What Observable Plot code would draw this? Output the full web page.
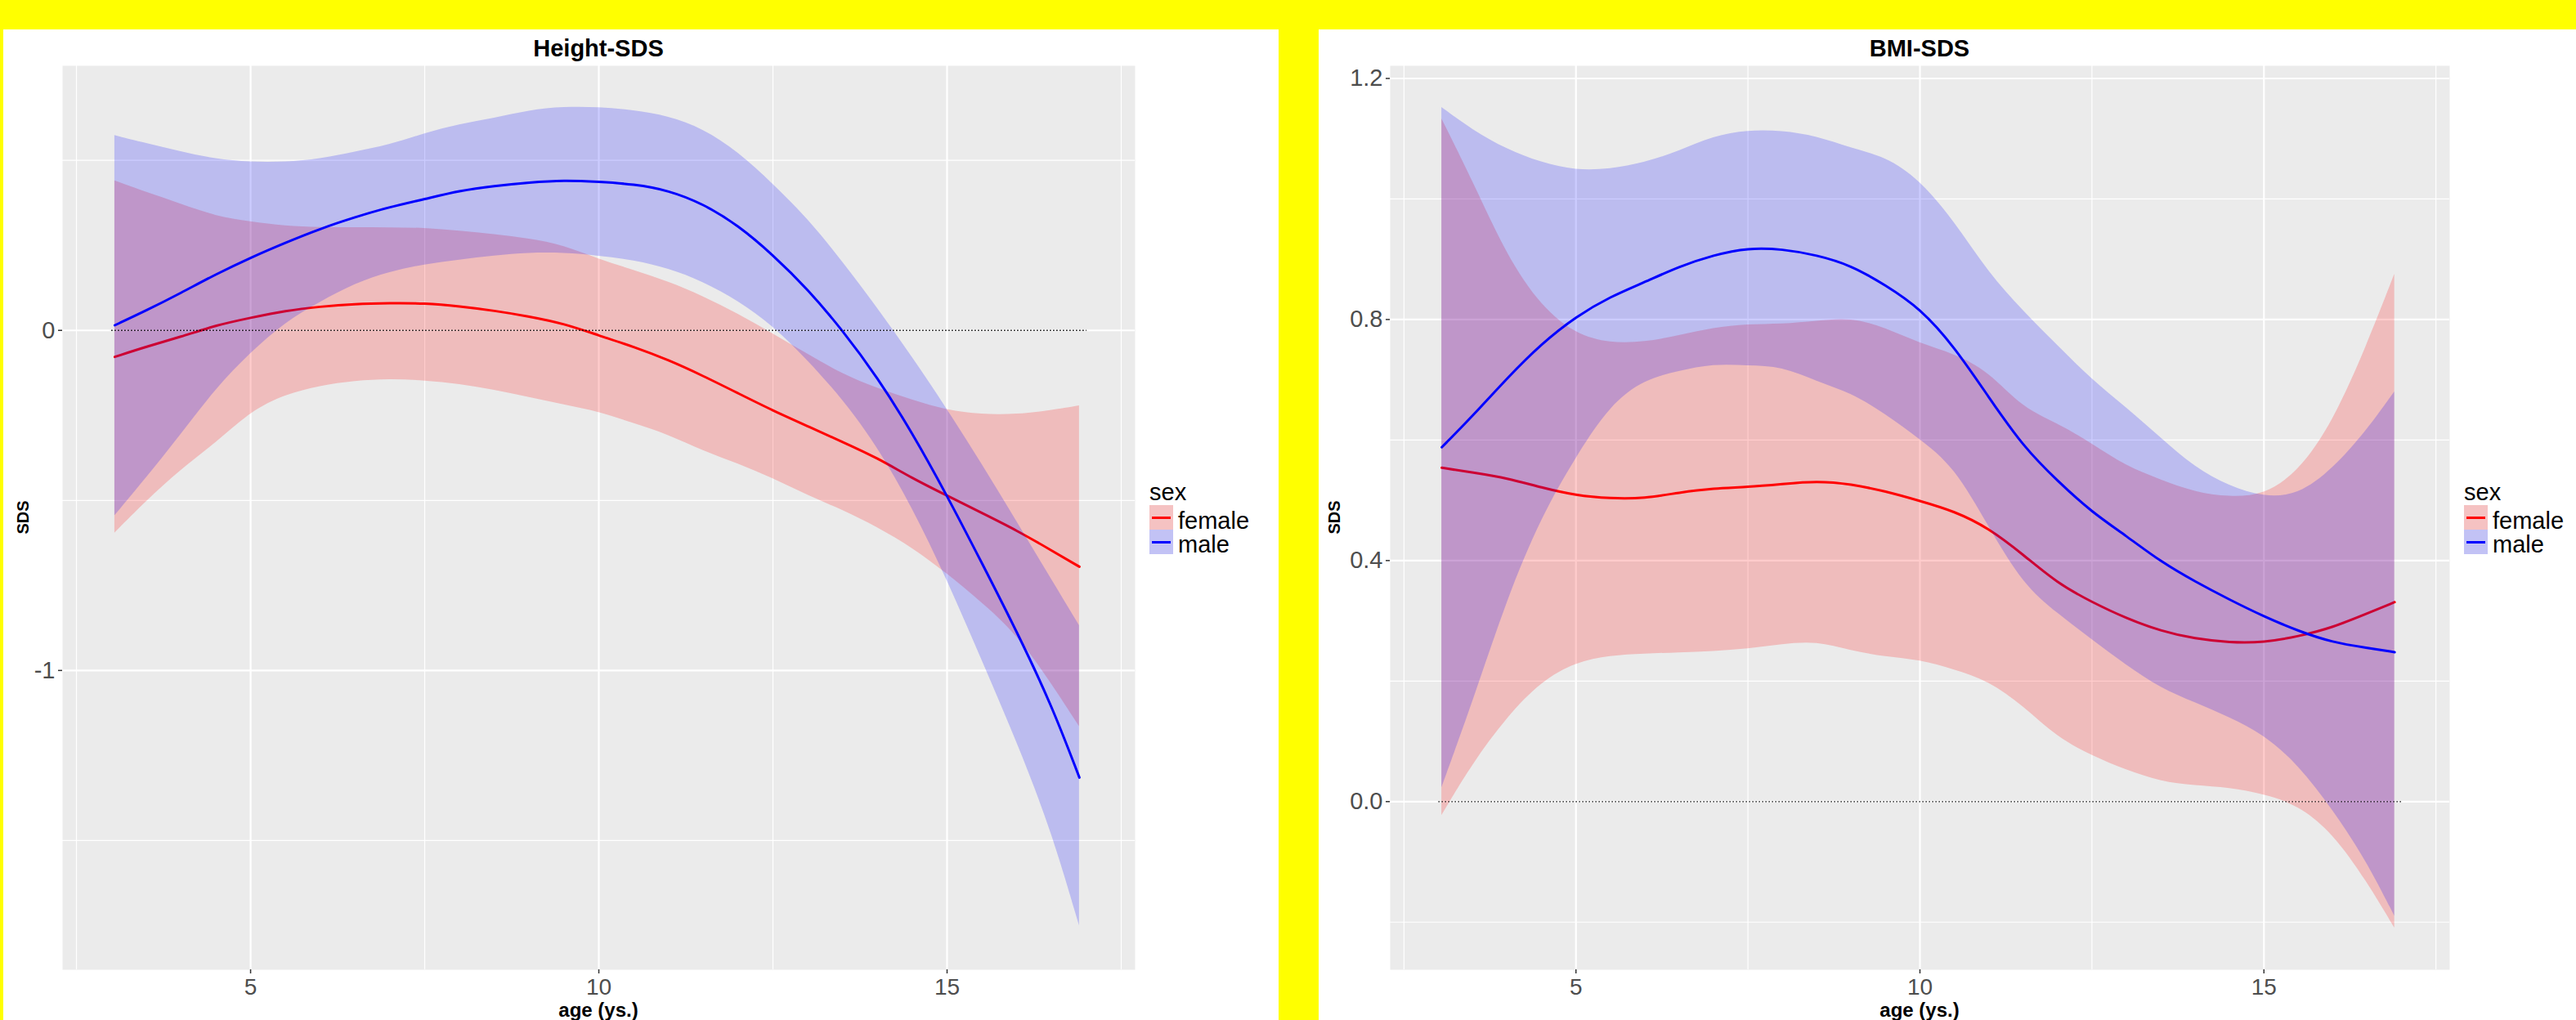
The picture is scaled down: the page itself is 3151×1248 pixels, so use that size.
<!DOCTYPE html>
<html>
<head>
<meta charset="utf-8">
<script src="https://cdn.jsdelivr.net/npm/d3@7"></script>
<script src="https://cdn.jsdelivr.net/npm/@observablehq/plot@0.6"></script>
<style>
html, body { margin: 0; padding: 0; }
body { width: 3151px; height: 1248px; background: #FFFF00; position: relative; overflow: hidden;
       font-family: "Liberation Sans", Arial, sans-serif; color: #000; }
.panel { position: absolute; top: 36px; height: 1212px; background: #FFFFFF; overflow: hidden; }
.panel svg { position: absolute; left: 0; top: 0; }
.t { position: absolute; white-space: nowrap; line-height: 1; }
.title { font-weight: bold; font-size: 29px; transform: translateX(-50%); }
.xlab { font-weight: bold; font-size: 24px; transform: translateX(-50%); }
.ylab { font-weight: bold; font-size: 20px; transform: translate(-50%, -50%) rotate(-90deg); }
.legtitle { font-size: 29px; }
.legtext { font-size: 29px; }
.key { position: absolute; width: 29px; height: 30px; }
.key .ln { position: absolute; left: 3px; right: 3px; top: 13.5px; height: 3px; }
</style>
</head>
<body>
<div id="left" class="panel" style="left:4px;width:1560px;"></div>
<div id="right" class="panel" style="left:1613px;width:1538px;"></div>
<script>
// ---- data ----
const ages = [3.05, 3.5, 4, 4.5, 5, 5.5, 6, 6.5, 7, 7.5, 8, 8.5, 9, 9.5, 10, 10.5, 11, 11.5, 12, 12.5, 13, 13.5, 14, 14.5, 15, 15.5, 16, 16.5, 16.9];

const heightFemaleFit   = [-0.078, -0.048, -0.019, 0.015, 0.037, 0.058, 0.070, 0.078, 0.080, 0.080, 0.071, 0.058, 0.041, 0.020, -0.015, -0.048, -0.087, -0.134, -0.185, -0.236, -0.282, -0.328, -0.375, -0.435, -0.486, -0.537, -0.588, -0.647, -0.695];
const heightFemaleUpper = [0.440, 0.406, 0.372, 0.335, 0.319, 0.306, 0.302, 0.302, 0.302, 0.301, 0.292, 0.282, 0.270, 0.250, 0.209, 0.177, 0.143, 0.100, 0.049, -0.010, -0.070, -0.129, -0.171, -0.205, -0.236, -0.248, -0.248, -0.236, -0.222];
const heightFemaleLower = [-0.596, -0.503, -0.409, -0.333, -0.239, -0.189, -0.163, -0.149, -0.143, -0.148, -0.158, -0.175, -0.197, -0.219, -0.239, -0.274, -0.307, -0.355, -0.392, -0.435, -0.486, -0.528, -0.579, -0.639, -0.715, -0.800, -0.893, -1.038, -1.165];
const heightMaleFit     = [0.015, 0.058, 0.110, 0.165, 0.214, 0.258, 0.299, 0.333, 0.363, 0.386, 0.411, 0.425, 0.435, 0.442, 0.437, 0.430, 0.412, 0.372, 0.309, 0.222, 0.121, 0.000, -0.138, -0.301, -0.486, -0.684, -0.885, -1.101, -1.315];
const heightMaleUpper   = [0.573, 0.550, 0.525, 0.503, 0.494, 0.494, 0.503, 0.525, 0.545, 0.579, 0.606, 0.623, 0.647, 0.657, 0.656, 0.647, 0.630, 0.593, 0.525, 0.431, 0.329, 0.202, 0.066, -0.078, -0.231, -0.392, -0.562, -0.732, -0.868];
const heightMaleLower   = [-0.545, -0.435, -0.307, -0.172, -0.066, 0.024, 0.083, 0.138, 0.172, 0.194, 0.207, 0.219, 0.228, 0.228, 0.219, 0.206, 0.182, 0.143, 0.087, 0.014, -0.088, -0.202, -0.341, -0.520, -0.732, -0.970, -1.208, -1.471, -1.751];

const bmiFemaleFit   = [0.554, 0.546, 0.537, 0.521, 0.508, 0.503, 0.503, 0.513, 0.520, 0.522, 0.527, 0.532, 0.527, 0.515, 0.499, 0.482, 0.454, 0.410, 0.362, 0.331, 0.304, 0.283, 0.270, 0.264, 0.264, 0.274, 0.289, 0.312, 0.331];
const bmiFemaleUpper = [1.133, 1.030, 0.905, 0.821, 0.775, 0.760, 0.762, 0.773, 0.786, 0.792, 0.792, 0.797, 0.803, 0.786, 0.760, 0.743, 0.714, 0.652, 0.628, 0.594, 0.556, 0.534, 0.513, 0.505, 0.508, 0.546, 0.628, 0.757, 0.875];
const bmiFemaleLower = [-0.023, 0.063, 0.140, 0.199, 0.231, 0.242, 0.245, 0.247, 0.249, 0.253, 0.261, 0.266, 0.250, 0.240, 0.235, 0.219, 0.200, 0.159, 0.106, 0.076, 0.052, 0.033, 0.026, 0.023, 0.012, -0.006, -0.052, -0.133, -0.210];
const bmiMaleFit     = [0.588, 0.640, 0.703, 0.760, 0.805, 0.838, 0.862, 0.888, 0.907, 0.919, 0.917, 0.907, 0.890, 0.857, 0.819, 0.755, 0.671, 0.589, 0.532, 0.480, 0.441, 0.398, 0.365, 0.335, 0.307, 0.283, 0.264, 0.255, 0.248];
const bmiMaleUpper   = [1.152, 1.114, 1.082, 1.060, 1.047, 1.049, 1.060, 1.079, 1.104, 1.114, 1.113, 1.104, 1.084, 1.070, 1.032, 0.963, 0.877, 0.814, 0.757, 0.700, 0.654, 0.604, 0.554, 0.523, 0.505, 0.508, 0.551, 0.616, 0.680];
const bmiMaleLower   = [0.023, 0.164, 0.336, 0.472, 0.571, 0.658, 0.700, 0.714, 0.726, 0.723, 0.722, 0.697, 0.678, 0.643, 0.601, 0.556, 0.456, 0.360, 0.312, 0.269, 0.226, 0.188, 0.164, 0.140, 0.111, 0.061, -0.013, -0.100, -0.190];

const refAges = [3, 17];          // dotted reference line at SDS = 0
const refValue = 0;

const xTicks = [5, 10, 15];
const xMinor = [2.5, 7.5, 12.5, 17.5];
const heightYTicks = [-1, 0];
const heightYMinor = [-1.5, -0.5, 0.5];
const bmiYTicks = [0, 0.4, 0.8, 1.2];
const bmiYMinor = [-0.2, 0.2, 0.6, 1.0];

const sexes = ["female", "male"];
const sexColors = ["#FF0000", "#0000FF"];
const keyFills = ["#F5C2C2", "#C2C2F5"];

// ---- chart ----
const FONT = "Liberation Sans, Arial, sans-serif";
const CURVE = "basis";
const rows = (fit, lo, hi) => ages.map((a, i) => ({age: a, fit: fit[i], lo: lo[i], hi: hi[i]}));

function makeChart(cfg) {
  const F = rows(cfg.fF, cfg.fL, cfg.fU);
  const M = rows(cfg.mF, cfg.mL, cfg.mU);
  const ref = refAges.map(a => ({age: a, v: refValue}));
  return Plot.plot({
    width: cfg.width, height: 1212,
    marginLeft: cfg.ml, marginRight: cfg.mr, marginTop: 44, marginBottom: 62,
    x: {domain: [2.3, 17.7]},
    y: {domain: cfg.yDomain},
    style: {background: "transparent", fontFamily: FONT, overflow: "visible"},
    marks: [
      Plot.frame({fill: "#EBEBEB", stroke: null}),
      Plot.ruleX(xMinor, {stroke: "#FFFFFF", strokeWidth: 1.2}),
      Plot.ruleY(cfg.yMinor, {stroke: "#FFFFFF", strokeWidth: 1.2}),
      Plot.ruleX(xTicks, {stroke: "#FFFFFF", strokeWidth: 2.2}),
      Plot.ruleY(cfg.yTicks, {stroke: "#FFFFFF", strokeWidth: 2.2}),
      Plot.area(F, {x1: "age", y1: "lo", y2: "hi", fill: sexColors[0], fillOpacity: 0.2, curve: CURVE}),
      Plot.line(F, {x: "age", y: "fit", stroke: sexColors[0], strokeWidth: 3, curve: CURVE}),
      Plot.area(M, {x1: "age", y1: "lo", y2: "hi", fill: sexColors[1], fillOpacity: 0.2, curve: CURVE}),
      Plot.line(M, {x: "age", y: "fit", stroke: sexColors[1], strokeWidth: 3, curve: CURVE}),
      Plot.line(ref, {x: "age", y: "v", stroke: "#000000", strokeWidth: 1.3, strokeDasharray: "1.5,2.5", strokeLinecap: "butt"}),
      Plot.axisX(xTicks, {tickSize: 5, tickPadding: 6, fontSize: 28, fill: "#4D4D4D", stroke: "#333333", strokeWidth: 1.5, label: null}),
      Plot.axisY(cfg.yTicks, {tickSize: 5, tickPadding: 4, fontSize: 29, fill: "#4D4D4D", stroke: "#333333", strokeWidth: 1.5, label: null, tickFormat: cfg.fmt})
    ]
  });
}

function addText(panel, cls, text, left, top) {
  const d = document.createElement("div");
  d.className = "t " + cls;
  d.textContent = text;
  d.style.left = left + "px";
  d.style.top = top + "px";
  panel.appendChild(d);
}

function addLegend(panel, x) {
  addText(panel, "legtitle", "sex", x, 576 - 24.5);
  sexes.forEach((s, i) => {
    const k = document.createElement("div");
    k.className = "key";
    k.style.left = x + "px";
    k.style.top = (582 + 30 * i) + "px";
    k.style.background = keyFills[i];
    const ln = document.createElement("div");
    ln.className = "ln";
    ln.style.background = sexColors[i];
    k.appendChild(ln);
    panel.appendChild(k);
    addText(panel, "legtext", s, x + 35, 611 + 29 * i - 24.5);
  });
}

function build(panelId, cfg) {
  const panel = document.getElementById(panelId);
  panel.appendChild(makeChart(cfg));
  const cx = cfg.ml + (cfg.width - cfg.ml - cfg.mr) / 2;
  addText(panel, "title", cfg.title, cx, 33 - 24.5);
  addText(panel, "xlab", "age (ys.)", cx, 1188);
  addText(panel, "ylab", "SDS", cfg.ylabX, 597);
  addLegend(panel, cfg.width - cfg.mr + 18);
}

build("left", {
  title: "Height-SDS", width: 1560, ml: 72, mr: 176, yDomain: [-1.88, 0.778],
  yTicks: heightYTicks, yMinor: heightYMinor, fmt: d => String(d), ylabX: 23.5,
  fF: heightFemaleFit, fL: heightFemaleLower, fU: heightFemaleUpper,
  mF: heightMaleFit, mL: heightMaleLower, mU: heightMaleUpper
});
build("right", {
  title: "BMI-SDS", width: 1538, ml: 87, mr: 155, yDomain: [-0.279, 1.221],
  yTicks: bmiYTicks, yMinor: bmiYMinor, fmt: d3.format(".1f"), ylabX: 19,
  fF: bmiFemaleFit, fL: bmiFemaleLower, fU: bmiFemaleUpper,
  mF: bmiMaleFit, mL: bmiMaleLower, mU: bmiMaleUpper
});
</script>
</body>
</html>
